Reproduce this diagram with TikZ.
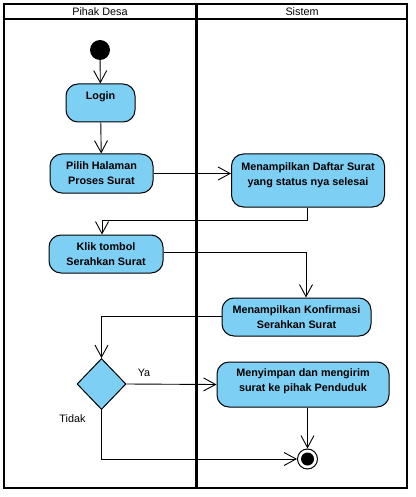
\documentclass[tikz,border=0pt]{standalone}
\usepackage{fontspec}
\setmainfont{Liberation Sans}
\usetikzlibrary{arrows.meta,shapes.geometric,calc}
\definecolor{actfill}{HTML}{7DCFF3}
\begin{document}
\begin{tikzpicture}[x=1pt,y=-1pt,
  act/.style={draw=black, line width=1pt, fill=actfill, rounded corners=12pt,
    font=\fontsize{10.8}{15}\selectfont\bfseries, align=center, inner sep=0pt},
  decision/.style={diamond, draw=black, line width=1pt, fill=actfill, inner sep=0pt,
    minimum width=49pt, minimum height=51pt},
  flow/.style={draw=black, line width=0.9pt,
    -{Straight Barb[length=12pt,width=13pt,line width=0.9pt]}},
  lane/.style={draw=black, line width=2pt},
  lbl/.style={font=\fontsize{10.8}{13}\selectfont, inner sep=0pt}]
\useasboundingbox (0,0) rectangle (415,497);
% swimlanes
\draw[lane] (4,4) rectangle (407,488);
\draw[lane] (4,19) -- (407,19);
\draw[draw=black, line width=2.6pt] (196.5,4) -- (196.5,488);
\node[lbl] (hdrA) at (100,12) {Pihak Desa};
\node[lbl] (hdrB) at (302,12) {Sistem};
% nodes
\node[circle, fill=black, minimum size=20pt, inner sep=0pt] (start) at (100,50) {};
\node[act, minimum width=69pt, minimum height=38pt, text height=8pt, text depth=14pt] (login) at (100.5,103) {Login};
\node[act, minimum width=103pt, minimum height=39pt] (pilih) at (101.5,173.5) {Pilih Halaman\\Proses Surat};
\node[act, minimum width=153pt, minimum height=53pt, text depth=13pt] (daftar) at (308,180.5) {Menampilkan Daftar Surat\\yang status nya selesai};
\node[act, minimum width=114pt, minimum height=38pt] (klik) at (106,254) {Klik tombol\\Serahkan Surat};
\node[act, minimum width=149pt, minimum height=38pt] (konf) at (296.5,317) {Menampilkan Konfirmasi\\Serahkan Surat};
\node[decision] (dec) at (101.5,384) {};
\node[act, minimum width=172pt, minimum height=45pt, text depth=8pt] (simpan) at (303,384.5) {Menyimpan dan mengirim\\surat ke pihak Penduduk};
\node[circle, draw=black, line width=1pt, fill=white, minimum size=20pt, inner sep=0pt] (end) at (307.5,459) {};
\fill[black] (end.center) circle[radius=6.5pt];
% labels
\node[lbl] (ya) at (144,373) {Ya};
\node[lbl] (tidak) at (72.5,419) {Tidak};
% connectors
\coordinate (c1) at (307,220);
\draw[flow] (start) -- (login);
\draw[flow] (login) -- (pilih);
\draw[flow] (pilih.east) -- (pilih.east -| daftar.west);
\draw[flow] (daftar.south -| c1) -- (c1) -| ([xshift=-4pt]klik.north);
\draw[flow] ([yshift=2pt]klik.east) -| ([xshift=9.5pt]konf.north);
\draw[flow] ([yshift=1pt]konf.west) -| (dec.north);
\draw[flow] (dec.east) -- (simpan.west);
\draw[flow] (end.north |- simpan.south) -- (end.north);
\draw[flow] (dec.south) |- (end.west);
\end{tikzpicture}
\end{document}
